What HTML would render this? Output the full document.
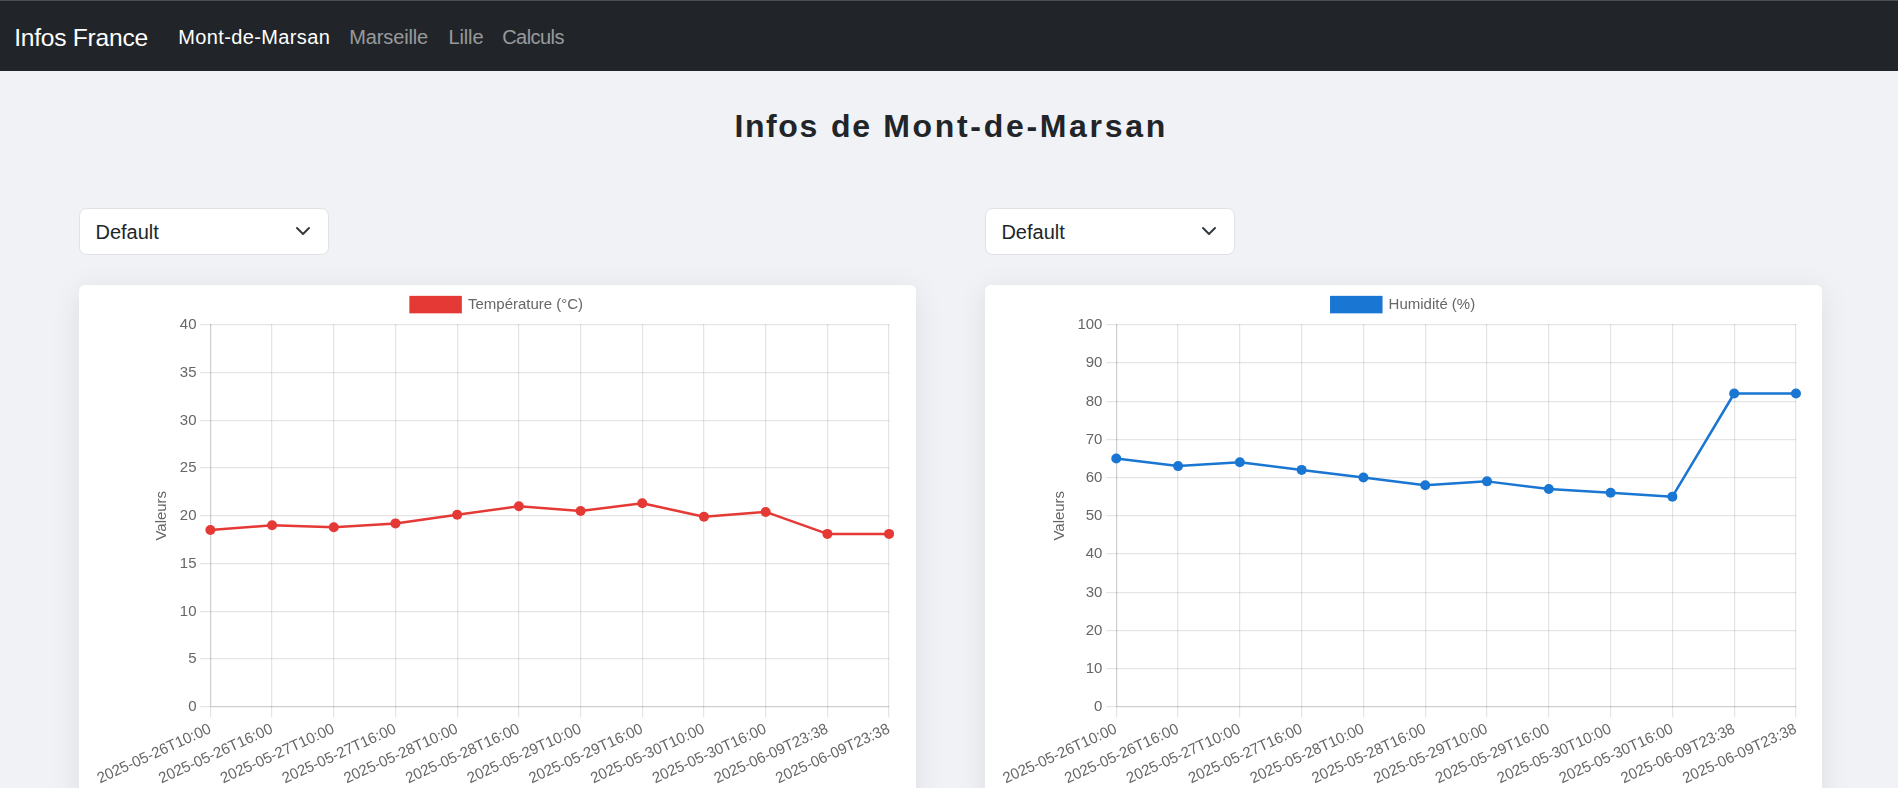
<!DOCTYPE html>
<html lang="fr"><head><meta charset="utf-8"><title>Infos France</title>
<style>
html,body{margin:0;padding:0}
body{width:1898px;height:788px;overflow:hidden;background:#f0f2f5;font-family:"Liberation Sans",sans-serif;position:relative}
.nav{position:absolute;left:0;top:0;width:1898px;height:70.5px;background:#212529;box-sizing:border-box;border-top:1px solid #4b4d4e}
.t{position:absolute;white-space:nowrap;line-height:1;margin:0;padding:0}
.brand{color:#fff;font-size:24.6px;letter-spacing:-0.25px}
.lk{color:rgba(255,255,255,.55);font-size:20px}
.lk.on{color:#fff}
h1.t{font-size:32px;font-weight:700;letter-spacing:2.36px;color:#212529}
.sel{position:absolute;top:208.2px;width:249.4px;height:46.4px;box-sizing:border-box;background:#fff;border:1.25px solid #dee2e6;border-radius:7.5px}
.seltx{color:#212529;font-size:20px}
.chev{position:absolute;top:223.4px}
.card{position:absolute;top:284.8px;width:837.1px;height:560px;background:#fff;border-radius:6px;box-shadow:0 5px 30px rgba(0,0,0,.085)}
svg.ch{position:absolute;left:0;top:0;will-change:transform}
.tk{font-family:"Liberation Sans",sans-serif;font-size:15.35px;fill:#666}
</style></head>
<body>
<div class="nav"></div>
<span class="t brand" style="left:14.2px;top:26px">Infos France</span>
<span class="t lk on" style="left:178.2px;top:27px;letter-spacing:.38px">Mont-de-Marsan</span>
<span class="t lk" style="left:349.2px;top:27px;letter-spacing:-.12px">Marseille</span>
<span class="t lk" style="left:448.4px;top:27px;letter-spacing:-.1px">Lille</span>
<span class="t lk" style="left:502.2px;top:27px;letter-spacing:-.55px">Calculs</span>
<h1 class="t" style="left:734.5px;top:110px;letter-spacing:1.58px">Infos</h1>
<h1 class="t" style="left:831.1px;top:110px;letter-spacing:1.56px">de</h1>
<h1 class="t" style="left:883.2px;top:110px;letter-spacing:2.69px">Mont-de-Marsan</h1>
<div class="sel" style="left:79.2px"></div>
<div class="sel" style="left:985.1px;width:250px"></div>
<span class="t seltx" style="left:95.5px;top:222px">Default</span>
<span class="t seltx" style="left:1001.4px;top:222px">Default</span>
<svg class="chev" style="left:294.8px" width="16" height="16" viewBox="0 0 16 16"><path fill="none" stroke="#343a40" stroke-linecap="round" stroke-linejoin="round" stroke-width="2" d="m2 5 6 6 6-6"/></svg>
<svg class="chev" style="left:1200.7px" width="16" height="16" viewBox="0 0 16 16"><path fill="none" stroke="#343a40" stroke-linecap="round" stroke-linejoin="round" stroke-width="2" d="m2 5 6 6 6-6"/></svg>
<div class="card" style="left:79px"></div>
<div class="card" style="left:985px"></div>
<svg class="ch" width="1898" height="788" viewBox="0 0 1898 788">
<rect x="200" y="706" width="689.25" height="1.25" fill="rgba(0,0,0,0.1)"/>
<text transform="translate(196.53,711.23) scale(0.9772,1)" text-anchor="end" class="tk">0</text>
<rect x="200" y="658" width="689.25" height="1.25" fill="rgba(0,0,0,0.1)"/>
<text transform="translate(196.53,663.23) scale(0.9772,1)" text-anchor="end" class="tk">5</text>
<rect x="200" y="611" width="689.25" height="1.25" fill="rgba(0,0,0,0.1)"/>
<text transform="translate(196.53,616.23) scale(0.9772,1)" text-anchor="end" class="tk">10</text>
<rect x="200" y="563" width="689.25" height="1.25" fill="rgba(0,0,0,0.1)"/>
<text transform="translate(196.53,568.23) scale(0.9772,1)" text-anchor="end" class="tk">15</text>
<rect x="200" y="515" width="689.25" height="1.25" fill="rgba(0,0,0,0.1)"/>
<text transform="translate(196.53,520.23) scale(0.9772,1)" text-anchor="end" class="tk">20</text>
<rect x="200" y="467" width="689.25" height="1.25" fill="rgba(0,0,0,0.1)"/>
<text transform="translate(196.53,472.22) scale(0.9772,1)" text-anchor="end" class="tk">25</text>
<rect x="200" y="420" width="689.25" height="1.25" fill="rgba(0,0,0,0.1)"/>
<text transform="translate(196.53,425.22) scale(0.9772,1)" text-anchor="end" class="tk">30</text>
<rect x="200" y="372" width="689.25" height="1.25" fill="rgba(0,0,0,0.1)"/>
<text transform="translate(196.53,377.22) scale(0.9772,1)" text-anchor="end" class="tk">35</text>
<rect x="200" y="324" width="689.25" height="1.25" fill="rgba(0,0,0,0.1)"/>
<text transform="translate(196.53,329.22) scale(0.9772,1)" text-anchor="end" class="tk">40</text>
<rect x="210" y="324" width="1.25" height="393.25" fill="rgba(0,0,0,0.1)"/>
<rect x="271" y="324" width="1.25" height="393.25" fill="rgba(0,0,0,0.1)"/>
<rect x="333" y="324" width="1.25" height="393.25" fill="rgba(0,0,0,0.1)"/>
<rect x="395" y="324" width="1.25" height="393.25" fill="rgba(0,0,0,0.1)"/>
<rect x="457" y="324" width="1.25" height="393.25" fill="rgba(0,0,0,0.1)"/>
<rect x="518" y="324" width="1.25" height="393.25" fill="rgba(0,0,0,0.1)"/>
<rect x="580" y="324" width="1.25" height="393.25" fill="rgba(0,0,0,0.1)"/>
<rect x="642" y="324" width="1.25" height="393.25" fill="rgba(0,0,0,0.1)"/>
<rect x="703" y="324" width="1.25" height="393.25" fill="rgba(0,0,0,0.1)"/>
<rect x="765" y="324" width="1.25" height="393.25" fill="rgba(0,0,0,0.1)"/>
<rect x="827" y="324" width="1.25" height="393.25" fill="rgba(0,0,0,0.1)"/>
<rect x="888" y="324" width="1.25" height="393.25" fill="rgba(0,0,0,0.1)"/>
<rect x="210" y="324" width="1.25" height="382" fill="rgba(0,0,0,0.1)"/>
<rect x="210" y="706" width="679.25" height="1.25" fill="rgba(0,0,0,0.1)"/>
<text transform="translate(206.08,719.30) rotate(-24.5) translate(0.00,14.40) scale(0.9772,1)" text-anchor="end" class="tk">2025-05-26T10:00</text>
<text transform="translate(267.78,719.30) rotate(-24.5) translate(0.00,14.40) scale(0.9772,1)" text-anchor="end" class="tk">2025-05-26T16:00</text>
<text transform="translate(329.48,719.30) rotate(-24.5) translate(0.00,14.40) scale(0.9772,1)" text-anchor="end" class="tk">2025-05-27T10:00</text>
<text transform="translate(391.18,719.30) rotate(-24.5) translate(0.00,14.40) scale(0.9772,1)" text-anchor="end" class="tk">2025-05-27T16:00</text>
<text transform="translate(452.88,719.30) rotate(-24.5) translate(0.00,14.40) scale(0.9772,1)" text-anchor="end" class="tk">2025-05-28T10:00</text>
<text transform="translate(514.58,719.30) rotate(-24.5) translate(0.00,14.40) scale(0.9772,1)" text-anchor="end" class="tk">2025-05-28T16:00</text>
<text transform="translate(576.28,719.30) rotate(-24.5) translate(0.00,14.40) scale(0.9772,1)" text-anchor="end" class="tk">2025-05-29T10:00</text>
<text transform="translate(637.98,719.30) rotate(-24.5) translate(0.00,14.40) scale(0.9772,1)" text-anchor="end" class="tk">2025-05-29T16:00</text>
<text transform="translate(699.68,719.30) rotate(-24.5) translate(0.00,14.40) scale(0.9772,1)" text-anchor="end" class="tk">2025-05-30T10:00</text>
<text transform="translate(761.38,719.30) rotate(-24.5) translate(0.00,14.40) scale(0.9772,1)" text-anchor="end" class="tk">2025-05-30T16:00</text>
<text transform="translate(823.08,719.30) rotate(-24.5) translate(0.00,14.40) scale(0.9772,1)" text-anchor="end" class="tk">2025-06-09T23:38</text>
<text transform="translate(884.78,719.30) rotate(-24.5) translate(0.00,14.40) scale(0.9772,1)" text-anchor="end" class="tk">2025-06-09T23:38</text>
<text transform="translate(166.30,515.75) rotate(-90) scale(0.9772,1)" text-anchor="middle" class="tk">Valeurs</text>
<rect x="410.60" y="297.1" width="50" height="15" fill="#e53935" stroke="#e53935" stroke-width="2.5"/>
<text transform="translate(468.00,309.30) scale(0.9772,1)" text-anchor="start" class="tk">Température (°C)</text>
<polyline fill="none" stroke="#e53935" stroke-width="2.5" stroke-linejoin="round" points="210.38,530.08 272.08,525.30 333.78,527.21 395.48,523.39 457.18,514.79 518.88,506.20 580.58,510.98 642.28,503.33 703.98,516.71 765.68,511.93 827.38,533.89 889.08,533.89"/>
<circle cx="210.38" cy="530.08" r="5" fill="#e53935"/>
<circle cx="272.08" cy="525.30" r="5" fill="#e53935"/>
<circle cx="333.78" cy="527.21" r="5" fill="#e53935"/>
<circle cx="395.48" cy="523.39" r="5" fill="#e53935"/>
<circle cx="457.18" cy="514.79" r="5" fill="#e53935"/>
<circle cx="518.88" cy="506.20" r="5" fill="#e53935"/>
<circle cx="580.58" cy="510.98" r="5" fill="#e53935"/>
<circle cx="642.28" cy="503.33" r="5" fill="#e53935"/>
<circle cx="703.98" cy="516.71" r="5" fill="#e53935"/>
<circle cx="765.68" cy="511.93" r="5" fill="#e53935"/>
<circle cx="827.38" cy="533.89" r="5" fill="#e53935"/>
<circle cx="889.08" cy="533.89" r="5" fill="#e53935"/>
<rect x="1106" y="706" width="690.25" height="1.25" fill="rgba(0,0,0,0.1)"/>
<text transform="translate(1102.43,711.23) scale(0.9772,1)" text-anchor="end" class="tk">0</text>
<rect x="1106" y="668" width="690.25" height="1.25" fill="rgba(0,0,0,0.1)"/>
<text transform="translate(1102.43,673.23) scale(0.9772,1)" text-anchor="end" class="tk">10</text>
<rect x="1106" y="630" width="690.25" height="1.25" fill="rgba(0,0,0,0.1)"/>
<text transform="translate(1102.43,635.23) scale(0.9772,1)" text-anchor="end" class="tk">20</text>
<rect x="1106" y="592" width="690.25" height="1.25" fill="rgba(0,0,0,0.1)"/>
<text transform="translate(1102.43,597.23) scale(0.9772,1)" text-anchor="end" class="tk">30</text>
<rect x="1106" y="553" width="690.25" height="1.25" fill="rgba(0,0,0,0.1)"/>
<text transform="translate(1102.43,558.23) scale(0.9772,1)" text-anchor="end" class="tk">40</text>
<rect x="1106" y="515" width="690.25" height="1.25" fill="rgba(0,0,0,0.1)"/>
<text transform="translate(1102.43,520.23) scale(0.9772,1)" text-anchor="end" class="tk">50</text>
<rect x="1106" y="477" width="690.25" height="1.25" fill="rgba(0,0,0,0.1)"/>
<text transform="translate(1102.43,482.22) scale(0.9772,1)" text-anchor="end" class="tk">60</text>
<rect x="1106" y="439" width="690.25" height="1.25" fill="rgba(0,0,0,0.1)"/>
<text transform="translate(1102.43,444.22) scale(0.9772,1)" text-anchor="end" class="tk">70</text>
<rect x="1106" y="401" width="690.25" height="1.25" fill="rgba(0,0,0,0.1)"/>
<text transform="translate(1102.43,406.22) scale(0.9772,1)" text-anchor="end" class="tk">80</text>
<rect x="1106" y="362" width="690.25" height="1.25" fill="rgba(0,0,0,0.1)"/>
<text transform="translate(1102.43,367.22) scale(0.9772,1)" text-anchor="end" class="tk">90</text>
<rect x="1106" y="324" width="690.25" height="1.25" fill="rgba(0,0,0,0.1)"/>
<text transform="translate(1102.43,329.22) scale(0.9772,1)" text-anchor="end" class="tk">100</text>
<rect x="1116" y="324" width="1.25" height="393.25" fill="rgba(0,0,0,0.1)"/>
<rect x="1177" y="324" width="1.25" height="393.25" fill="rgba(0,0,0,0.1)"/>
<rect x="1239" y="324" width="1.25" height="393.25" fill="rgba(0,0,0,0.1)"/>
<rect x="1301" y="324" width="1.25" height="393.25" fill="rgba(0,0,0,0.1)"/>
<rect x="1363" y="324" width="1.25" height="393.25" fill="rgba(0,0,0,0.1)"/>
<rect x="1425" y="324" width="1.25" height="393.25" fill="rgba(0,0,0,0.1)"/>
<rect x="1486" y="324" width="1.25" height="393.25" fill="rgba(0,0,0,0.1)"/>
<rect x="1548" y="324" width="1.25" height="393.25" fill="rgba(0,0,0,0.1)"/>
<rect x="1610" y="324" width="1.25" height="393.25" fill="rgba(0,0,0,0.1)"/>
<rect x="1672" y="324" width="1.25" height="393.25" fill="rgba(0,0,0,0.1)"/>
<rect x="1734" y="324" width="1.25" height="393.25" fill="rgba(0,0,0,0.1)"/>
<rect x="1795" y="324" width="1.25" height="393.25" fill="rgba(0,0,0,0.1)"/>
<rect x="1116" y="324" width="1.25" height="382" fill="rgba(0,0,0,0.1)"/>
<rect x="1116" y="706" width="680.25" height="1.25" fill="rgba(0,0,0,0.1)"/>
<text transform="translate(1111.98,719.30) rotate(-24.5) translate(0.00,14.40) scale(0.9772,1)" text-anchor="end" class="tk">2025-05-26T10:00</text>
<text transform="translate(1173.77,719.30) rotate(-24.5) translate(0.00,14.40) scale(0.9772,1)" text-anchor="end" class="tk">2025-05-26T16:00</text>
<text transform="translate(1235.56,719.30) rotate(-24.5) translate(0.00,14.40) scale(0.9772,1)" text-anchor="end" class="tk">2025-05-27T10:00</text>
<text transform="translate(1297.35,719.30) rotate(-24.5) translate(0.00,14.40) scale(0.9772,1)" text-anchor="end" class="tk">2025-05-27T16:00</text>
<text transform="translate(1359.14,719.30) rotate(-24.5) translate(0.00,14.40) scale(0.9772,1)" text-anchor="end" class="tk">2025-05-28T10:00</text>
<text transform="translate(1420.93,719.30) rotate(-24.5) translate(0.00,14.40) scale(0.9772,1)" text-anchor="end" class="tk">2025-05-28T16:00</text>
<text transform="translate(1482.73,719.30) rotate(-24.5) translate(0.00,14.40) scale(0.9772,1)" text-anchor="end" class="tk">2025-05-29T10:00</text>
<text transform="translate(1544.52,719.30) rotate(-24.5) translate(0.00,14.40) scale(0.9772,1)" text-anchor="end" class="tk">2025-05-29T16:00</text>
<text transform="translate(1606.31,719.30) rotate(-24.5) translate(0.00,14.40) scale(0.9772,1)" text-anchor="end" class="tk">2025-05-30T10:00</text>
<text transform="translate(1668.10,719.30) rotate(-24.5) translate(0.00,14.40) scale(0.9772,1)" text-anchor="end" class="tk">2025-05-30T16:00</text>
<text transform="translate(1729.89,719.30) rotate(-24.5) translate(0.00,14.40) scale(0.9772,1)" text-anchor="end" class="tk">2025-06-09T23:38</text>
<text transform="translate(1791.68,719.30) rotate(-24.5) translate(0.00,14.40) scale(0.9772,1)" text-anchor="end" class="tk">2025-06-09T23:38</text>
<text transform="translate(1064.00,515.75) rotate(-90) scale(0.9772,1)" text-anchor="middle" class="tk">Valeurs</text>
<rect x="1331.30" y="297.1" width="50" height="15" fill="#1976d2" stroke="#1976d2" stroke-width="2.5"/>
<text transform="translate(1388.60,309.30) scale(0.9772,1)" text-anchor="start" class="tk">Humidité (%)</text>
<polyline fill="none" stroke="#1976d2" stroke-width="2.5" stroke-linejoin="round" points="1116.28,458.45 1178.07,466.09 1239.86,462.27 1301.65,469.91 1363.44,477.55 1425.23,485.19 1487.03,481.37 1548.82,489.01 1610.61,492.83 1672.40,496.65 1734.19,393.51 1795.98,393.51"/>
<circle cx="1116.28" cy="458.45" r="5" fill="#1976d2"/>
<circle cx="1178.07" cy="466.09" r="5" fill="#1976d2"/>
<circle cx="1239.86" cy="462.27" r="5" fill="#1976d2"/>
<circle cx="1301.65" cy="469.91" r="5" fill="#1976d2"/>
<circle cx="1363.44" cy="477.55" r="5" fill="#1976d2"/>
<circle cx="1425.23" cy="485.19" r="5" fill="#1976d2"/>
<circle cx="1487.03" cy="481.37" r="5" fill="#1976d2"/>
<circle cx="1548.82" cy="489.01" r="5" fill="#1976d2"/>
<circle cx="1610.61" cy="492.83" r="5" fill="#1976d2"/>
<circle cx="1672.40" cy="496.65" r="5" fill="#1976d2"/>
<circle cx="1734.19" cy="393.51" r="5" fill="#1976d2"/>
<circle cx="1795.98" cy="393.51" r="5" fill="#1976d2"/>
</svg>
</body></html>
